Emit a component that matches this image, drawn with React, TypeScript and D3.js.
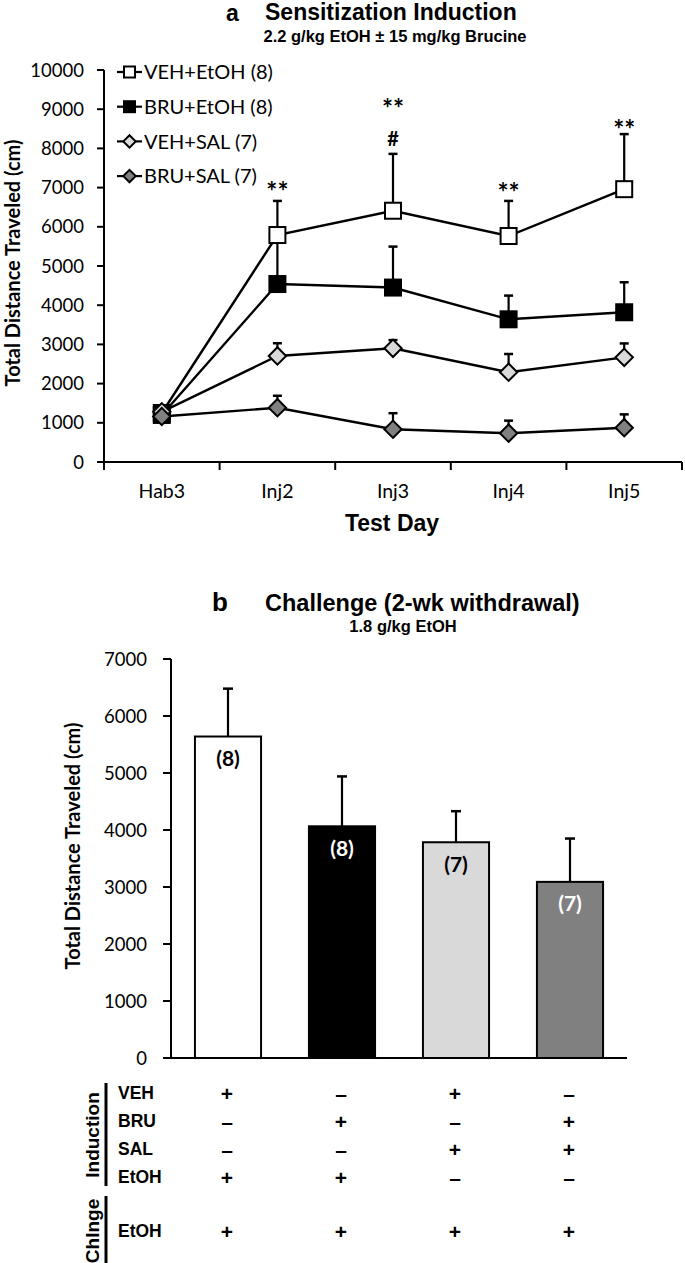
import React from 'react';
import * as d3 from 'd3';

// ---------- Panel a data ----------
const days = ['Hab3', 'Inj2', 'Inj3', 'Inj4', 'Inj5'];
const seriesNames = ['VEH+EtOH (8)', 'BRU+EtOH (8)', 'VEH+SAL (7)', 'BRU+SAL (7)'];
const seriesFills = ['#ffffff', '#000000', '#d9d9d9', '#808080'];
const seriesShapes = ['square', 'square', 'diamond', 'diamond'];
const vehEtohMean = [1250, 5790, 6410, 5765, 6960];
const vehEtohSem = [90, 870, 1450, 895, 1405];
const bruEtohMean = [1200, 4540, 4450, 3640, 3820];
const bruEtohSem = [90, 1150, 1045, 605, 765];
const vehSalMean = [1280, 2705, 2900, 2290, 2670];
const vehSalSem = [80, 325, 210, 465, 355];
const bruSalMean = [1160, 1385, 835, 735, 875];
const bruSalSem = [80, 305, 410, 320, 340];
const yTicksA = [0, 1000, 2000, 3000, 4000, 5000, 6000, 7000, 8000, 9000, 10000];
const annotDays = ['Inj2', 'Inj3', 'Inj3', 'Inj4', 'Inj5'];
const annotTexts = ['**', '**', '#', '**', '**'];
const annotValues = [7070, 9180, 8240, 7040, 8650];

// ---------- Panel b data ----------
const groups = ['VEH+EtOH', 'BRU+EtOH', 'VEH+SAL', 'BRU+SAL'];
const barMeans = [5640, 4065, 3785, 3090];
const barSems = [840, 875, 545, 760];
const barLabels = ['(8)', '(8)', '(7)', '(7)'];
const barFills = ['#ffffff', '#000000', '#d9d9d9', '#808080'];
const barLabelColors = ['#000000', '#ffffff', '#000000', '#ffffff'];
const yTicksB = [0, 1000, 2000, 3000, 4000, 5000, 6000, 7000];

// ---------- Treatment table ----------
const inductionRows = ['VEH', 'BRU', 'SAL', 'EtOH'];
const inductionSigns = [
  ['+', '–', '+', '–'],
  ['–', '+', '–', '+'],
  ['–', '–', '+', '+'],
  ['+', '+', '–', '–'],
];
const challengeRows = ['EtOH'];
const challengeSigns = [['+', '+', '+', '+']];

const means = [vehEtohMean, bruEtohMean, vehSalMean, bruSalMean];
const sems = [vehEtohSem, bruEtohSem, vehSalSem, bruSalSem];

const LATO = 'Lato, "Open Sans", sans-serif';
const ARIAL = '"Liberation Sans", Arial, sans-serif';

function Marker({ shape, x, y, fill, size }: { shape: string; x: number; y: number; fill: string; size: number }) {
  if (shape === 'square') {
    return <rect x={x - size / 2} y={y - size / 2} width={size} height={size} fill={fill} stroke="#000" strokeWidth={2} />;
  }
  const h = size * 0.62;
  const pts = `${x},${y - h} ${x + h},${y} ${x},${y + h} ${x - h},${y}`;
  return <polygon points={pts} fill={fill} stroke="#000" strokeWidth={2} strokeLinejoin="miter" />;
}

export default function App() {
  // Panel a scales
  const xA = d3.scaleBand<string>().domain(days).range([104, 682]).padding(0);
  const yA = d3.scaleLinear().domain([0, 10000]).range([462, 70]);
  const cx = (d: string) => (xA(d) as number) + xA.bandwidth() / 2;
  const line = d3.line<number>().x((_, i) => cx(days[i])).y((v) => yA(v));

  // Panel b scales
  const xB = d3.scaleBand<string>().domain(groups).range([171, 627]).paddingInner(0.42).paddingOuter(0.21);
  const yB = d3.scaleLinear().domain([0, 7000]).range([1058, 659]);
  const bx = (g: string) => (xB(g) as number) + xB.bandwidth() / 2;

  const bandEdges = d3.range(days.length + 1).map((i) => 104 + i * xA.bandwidth());

  const tableRowY = d3.scalePoint<string>().domain(inductionRows).range([1093, 1177]);

  return (
    <svg width={685} height={1263} style={{ position: 'absolute', left: 0, top: 0, background: '#fff' }}>
      <rect x={0} y={0} width={685} height={1263} fill="#fff" />

      {/* ===== Panel a titles ===== */}
      <text x={226} y={21} fontFamily={ARIAL} fontWeight="bold" fontSize={23}>a</text>
      <text x={265} y={20} fontFamily={ARIAL} fontWeight="bold" fontSize={23}>Sensitization Induction</text>
      <text x={395} y={42} textAnchor="middle" fontFamily={ARIAL} fontWeight="bold" fontSize={16.5}>2.2 g/kg EtOH ± 15 mg/kg Brucine</text>

      {/* y axis a */}
      <line x1={104} x2={104} y1={70} y2={470} stroke="#000" strokeWidth={2} />
      {yTicksA.map((t) => (
        <g key={'ya' + t}>
          <line x1={97} x2={104} y1={yA(t)} y2={yA(t)} stroke="#000" strokeWidth={2} />
          <text x={84} y={yA(t)} dy="0.36em" textAnchor="end" fontFamily={LATO} fontSize={18.5}>{t}</text>
        </g>
      ))}
      <text transform="translate(20,263) rotate(-90)" textAnchor="middle" fontFamily={LATO} fontWeight="bold" fontSize={20}>Total Distance Traveled  (cm)</text>

      {/* x axis a */}
      <line x1={104} x2={682} y1={462} y2={462} stroke="#000" strokeWidth={2} />
      {bandEdges.map((e, i) => (
        <line key={'xt' + i} x1={e} x2={e} y1={462} y2={470} stroke="#000" strokeWidth={2} />
      ))}
      {days.map((d) => (
        <text key={'xl' + d} x={cx(d)} y={491} dy="0.36em" textAnchor="middle" fontFamily={LATO} fontSize={19.5}>{d}</text>
      ))}
      <text x={392} y={531} textAnchor="middle" fontFamily={ARIAL} fontWeight="bold" fontSize={23}>Test Day</text>

      {/* error bars */}
      {means.map((m, si) =>
        m.map((v, i) => {
          const x = cx(days[i]);
          const top = yA(v + sems[si][i]);
          return (
            <g key={`eb${si}-${i}`}>
              <line x1={x} x2={x} y1={yA(v)} y2={top} stroke="#000" strokeWidth={2.2} />
              <line x1={x - 4.5} x2={x + 4.5} y1={top} y2={top} stroke="#000" strokeWidth={2.5} />
            </g>
          );
        })
      )}
      {/* lines */}
      {means.map((m, si) => (
        <path key={'ln' + si} d={line(m) as string} fill="none" stroke="#000" strokeWidth={2.4} />
      ))}
      {/* markers */}
      {means.map((m, si) =>
        m.map((v, i) => (
          <Marker key={`mk${si}-${i}`} shape={seriesShapes[si]} x={cx(days[i])} y={yA(v)} fill={seriesFills[si]} size={seriesShapes[si] === 'square' ? 16 : 14} />
        ))
      )}

      {/* annotations */}
      {annotTexts.map((t, i) => (
        <text key={'an' + i} x={cx(annotDays[i])} y={yA(annotValues[i])} dy={t === '#' ? '0.36em' : '0.62em'} textAnchor="middle" fontFamily={LATO} fontWeight="bold" fontSize={t === '#' ? 20 : 26}>{t}</text>
      ))}

      {/* legend */}
      {seriesNames.map((n, i) => {
        const ly = 72 + i * 34.7;
        return (
          <g key={'lg' + i}>
            <line x1={117} x2={142} y1={ly} y2={ly} stroke="#000" strokeWidth={2.2} />
            <Marker shape={seriesShapes[i]} x={129.5} y={ly} fill={seriesFills[i]} size={seriesShapes[i] === 'square' ? 11 : 10} />
            <text x={144} y={ly} dy="0.36em" fontFamily={LATO} fontSize={20}>{n}</text>
          </g>
        );
      })}

      {/* ===== Panel b titles ===== */}
      <text x={212} y={611} fontFamily={ARIAL} fontWeight="bold" fontSize={26}>b</text>
      <text x={265} y={611} fontFamily={ARIAL} fontWeight="bold" fontSize={23.5}>Challenge (2-wk withdrawal)</text>
      <text x={403} y={632} textAnchor="middle" fontFamily={ARIAL} fontWeight="bold" fontSize={16.5}>1.8 g/kg EtOH</text>

      {/* y axis b */}
      <line x1={171} x2={171} y1={659} y2={1058} stroke="#000" strokeWidth={2} />
      {yTicksB.map((t) => (
        <g key={'yb' + t}>
          <line x1={163} x2={171} y1={yB(t)} y2={yB(t)} stroke="#000" strokeWidth={2} />
          <text x={147} y={yB(t)} dy="0.36em" textAnchor="end" fontFamily={LATO} fontSize={18.5}>{t}</text>
        </g>
      ))}
      <text transform="translate(80,846) rotate(-90)" textAnchor="middle" fontFamily={LATO} fontWeight="bold" fontSize={20}>Total Distance Traveled (cm)</text>

      {/* bars */}
      {groups.map((g, i) => {
        const x = xB(g) as number;
        const w = xB.bandwidth();
        const top = yB(barMeans[i]);
        const etop = yB(barMeans[i] + barSems[i]);
        return (
          <g key={'bar' + g}>
            <line x1={bx(g)} x2={bx(g)} y1={top} y2={etop} stroke="#000" strokeWidth={2.2} />
            <line x1={bx(g) - 5} x2={bx(g) + 5} y1={etop} y2={etop} stroke="#000" strokeWidth={2.5} />
            <rect x={x} y={top} width={w} height={yB(0) - top} fill={barFills[i]} stroke="#000" strokeWidth={2} />
            <text x={bx(g)} y={top + 22} dy="0.36em" textAnchor="middle" fontFamily={LATO} fontWeight="bold" fontSize={21}>
              <tspan fill={barLabelColors[i]}>{barLabels[i]}</tspan>
            </text>
          </g>
        );
      })}
      <line x1={163} x2={627} y1={1058} y2={1058} stroke="#000" strokeWidth={2} />

      {/* treatment table */}
      <line x1={106} x2={106} y1={1083} y2={1186} stroke="#000" strokeWidth={3} />
      <text transform="translate(92,1135) rotate(-90)" dy="0.36em" textAnchor="middle" fontFamily={ARIAL} fontWeight="bold" fontSize={19}>Induction</text>
      {inductionRows.map((r, ri) => {
        const ry = tableRowY(r) as number;
        return (
          <g key={'ir' + r}>
            <text x={118} y={ry} dy="0.36em" fontFamily={ARIAL} fontWeight="bold" fontSize={17.5}>{r}</text>
            {groups.map((g, gi) => (
              <text key={'is' + gi} x={bx(g) - 1} y={ry} dy="0.36em" textAnchor="middle" fontFamily={ARIAL} fontWeight="bold" fontSize={21}>{inductionSigns[ri][gi]}</text>
            ))}
          </g>
        );
      })}
      <line x1={106} x2={106} y1={1196} y2={1263} stroke="#000" strokeWidth={3} />
      <text transform="translate(92,1231) rotate(-90)" dy="0.36em" textAnchor="middle" fontFamily={ARIAL} fontWeight="bold" fontSize={19}>Chlnge</text>
      {challengeRows.map((r, ri) => (
        <g key={'cr' + r}>
          <text x={118} y={1231} dy="0.36em" fontFamily={ARIAL} fontWeight="bold" fontSize={17.5}>{r}</text>
          {groups.map((g, gi) => (
            <text key={'cs' + gi} x={bx(g) - 1} y={1231} dy="0.36em" textAnchor="middle" fontFamily={ARIAL} fontWeight="bold" fontSize={21}>{challengeSigns[ri][gi]}</text>
          ))}
        </g>
      ))}
    </svg>
  );
}
